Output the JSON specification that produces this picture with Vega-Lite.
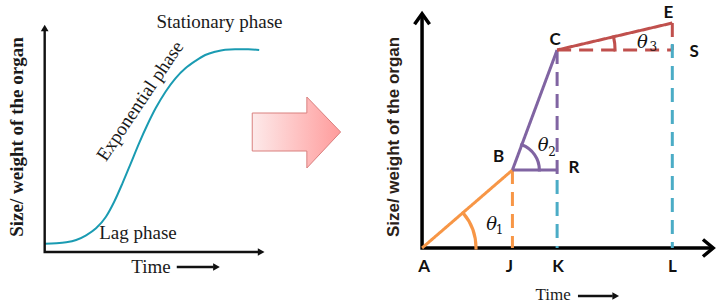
{
  "$schema": "https://vega.github.io/schema/vega-lite/v6.json",
  "width": 721,
  "height": 303,
  "autosize": {"type": "fit", "contains": "padding"},
  "padding": 0,
  "background": "white",
  "config": {"view": {"stroke": null}},
  "datasets": {
    "arrow": [
      {"o": 1, "x": 254, "y": 113},
      {"o": 2, "x": 309, "y": 113},
      {"o": 3, "x": 309, "y": 97},
      {"o": 4, "x": 343, "y": 132},
      {"o": 5, "x": 309, "y": 168},
      {"o": 6, "x": 309, "y": 151},
      {"o": 7, "x": 254, "y": 151},
      {"o": 8, "x": 254, "y": 113}
    ],
    "sigmoid": [
      {"x": 45, "y": 243.7}, {"x": 56.7, "y": 243.3}, {"x": 66.7, "y": 242.3}, {"x": 76.7, "y": 240},
      {"x": 86.7, "y": 235.3}, {"x": 96.7, "y": 228.3}, {"x": 106.7, "y": 216.7}, {"x": 115, "y": 201.7},
      {"x": 123.3, "y": 183.3}, {"x": 131.7, "y": 163.3}, {"x": 140, "y": 143.3}, {"x": 148.3, "y": 125},
      {"x": 156.7, "y": 108.3}, {"x": 166.7, "y": 91.7}, {"x": 176.7, "y": 78.3}, {"x": 186.7, "y": 68.3},
      {"x": 196.7, "y": 61}, {"x": 206.7, "y": 55}, {"x": 216.7, "y": 51.7}, {"x": 226.7, "y": 49.7},
      {"x": 236.7, "y": 49.3}, {"x": 250, "y": 49.3}, {"x": 261, "y": 50}
    ],
    "thin": [
      {"seg": "leftaxes", "o": 1, "x": 45, "y": 30},
      {"seg": "leftaxes", "o": 2, "x": 45, "y": 252},
      {"seg": "leftaxes", "o": 3, "x": 262, "y": 252},
      {"seg": "time1", "o": 1, "x": 178, "y": 267},
      {"seg": "time1", "o": 2, "x": 215, "y": 267},
      {"seg": "time2", "o": 1, "x": 582, "y": 296},
      {"seg": "time2", "o": 2, "x": 617, "y": 296}
    ],
    "rightaxes": [
      {"o": 1, "x": 425, "y": 15},
      {"o": 2, "x": 425, "y": 248},
      {"o": 3, "x": 717, "y": 248}
    ],
    "headsRight": [
      {"x": 263, "y": 252}, {"x": 218, "y": 267}, {"x": 620, "y": 296}
    ],
    "headsUp": [{"x": 45, "y": 28}],
    "chevUp": [{"x": 425, "y": 19}],
    "chevRight": [{"x": 713, "y": 248}],
    "segments": [
      {"seg": "AB", "phase": "Lag", "kind": "slope", "o": 1, "x": 425, "y": 248},
      {"seg": "AB", "phase": "Lag", "kind": "slope", "o": 2, "x": 516, "y": 170},
      {"seg": "BJ", "phase": "Lag", "kind": "guide", "o": 1, "x": 516, "y": 170},
      {"seg": "BJ", "phase": "Lag", "kind": "guide", "o": 2, "x": 516, "y": 248},
      {"seg": "BC", "phase": "Exponential", "kind": "slope", "o": 1, "x": 516, "y": 170},
      {"seg": "BC", "phase": "Exponential", "kind": "slope", "o": 2, "x": 561, "y": 50},
      {"seg": "BR", "phase": "Exponential", "kind": "slope", "o": 1, "x": 516, "y": 170},
      {"seg": "BR", "phase": "Exponential", "kind": "slope", "o": 2, "x": 562, "y": 170},
      {"seg": "CR", "phase": "Exponential", "kind": "guide", "o": 1, "x": 561, "y": 50},
      {"seg": "CR", "phase": "Exponential", "kind": "guide", "o": 2, "x": 561, "y": 174},
      {"seg": "CE", "phase": "Stationary", "kind": "slope", "o": 1, "x": 561, "y": 50},
      {"seg": "CE", "phase": "Stationary", "kind": "slope", "o": 2, "x": 677, "y": 23},
      {"seg": "CS", "phase": "Stationary", "kind": "guide", "o": 1, "x": 561, "y": 50},
      {"seg": "CS", "phase": "Stationary", "kind": "guide", "o": 2, "x": 677, "y": 50},
      {"seg": "ES", "phase": "Stationary", "kind": "guide", "o": 1, "x": 677, "y": 23},
      {"seg": "ES", "phase": "Stationary", "kind": "guide", "o": 2, "x": 677, "y": 50},
      {"seg": "RK", "phase": "Drop", "kind": "guide", "o": 1, "x": 561, "y": 180},
      {"seg": "RK", "phase": "Drop", "kind": "guide", "o": 2, "x": 561, "y": 248},
      {"seg": "SL", "phase": "Drop", "kind": "guide", "o": 1, "x": 677, "y": 44},
      {"seg": "SL", "phase": "Drop", "kind": "guide", "o": 2, "x": 677, "y": 248}
    ],
    "arc1": [{"x": 425, "y": 248, "t1": 0.862, "t2": 1.5708}],
    "arc2": [{"x": 516, "y": 170, "t1": 0.351, "t2": 1.5708}],
    "arc3": [{"x": 561, "y": 50, "t1": 1.344, "t2": 1.5708}],
    "serifH": [
      {"t": "Stationary phase", "x": 221, "y": 22},
      {"t": "Lag phase", "x": 139, "y": 233},
      {"t": "Time", "x": 152, "y": 267}
    ],
    "expo": [{"t": "Exponential phase", "x": 141, "y": 101}],
    "ytitleL": [{"t": "Size/ weight of the organ", "x": 17, "y": 137}],
    "ytitleR": [{"t": "Size/ weight of the organ", "x": 397, "y": 137}],
    "timeR": [{"t": "Time", "x": 557, "y": 295}],
    "pts": [
      {"t": "A", "x": 427, "y": 267}, {"t": "J", "x": 513, "y": 267}, {"t": "K", "x": 562, "y": 267},
      {"t": "L", "x": 677, "y": 267}, {"t": "B", "x": 502, "y": 157}, {"t": "C", "x": 559, "y": 40},
      {"t": "E", "x": 673, "y": 13}, {"t": "S", "x": 699, "y": 52}, {"t": "R", "x": 578, "y": 168}
    ],
    "thetas": [
      {"t": "θ", "x": 495, "y": 225}, {"t": "θ", "x": 547, "y": 146}, {"t": "θ", "x": 647, "y": 43}
    ],
    "subs": [
      {"t": "1", "x": 503, "y": 230}, {"t": "2", "x": 556, "y": 152}, {"t": "3", "x": 658, "y": 47}
    ]
  },
  "encoding": {
    "x": {"field": "x", "type": "quantitative", "scale": {"domain": [0, 721], "nice": false, "zero": false}, "axis": null},
    "y": {"field": "y", "type": "quantitative", "scale": {"domain": [0, 303], "nice": false, "zero": false, "reverse": true}, "axis": null}
  },
  "layer": [
    {
      "data": {"name": "arrow"},
      "mark": {"type": "line", "stroke": "#d9807f", "strokeWidth": 1, "strokeJoin": "miter",
        "fill": {"gradient": "linear", "x1": 0, "y1": 0, "x2": 1, "y2": 0,
          "stops": [{"offset": 0, "color": "#fdeaea"}, {"offset": 1, "color": "#ff9c9c"}]}},
      "encoding": {"order": {"field": "o", "type": "quantitative"}}
    },
    {
      "data": {"name": "sigmoid"},
      "mark": {"type": "line", "color": "#1a9bb2", "strokeWidth": 2, "interpolate": "monotone"}
    },
    {
      "data": {"name": "thin"},
      "mark": {"type": "line", "color": "#111111", "strokeWidth": 2.4},
      "encoding": {"detail": {"field": "seg"}, "order": {"field": "o", "type": "quantitative"}}
    },
    {
      "data": {"name": "rightaxes"},
      "mark": {"type": "line", "color": "#000000", "strokeWidth": 3.5, "strokeJoin": "miter"},
      "encoding": {"order": {"field": "o", "type": "quantitative"}}
    },
    {
      "data": {"name": "headsRight"},
      "mark": {"type": "point", "shape": "triangle-right", "filled": true, "color": "#111111", "size": 60, "opacity": 1}
    },
    {
      "data": {"name": "headsUp"},
      "mark": {"type": "point", "shape": "triangle-up", "filled": true, "color": "#111111", "size": 60, "opacity": 1}
    },
    {
      "data": {"name": "chevUp"},
      "mark": {"type": "point", "shape": "M-1,0.7L0,-0.7L1,0.7", "filled": false, "stroke": "#000000", "strokeWidth": 3.5, "size": 225, "opacity": 1}
    },
    {
      "data": {"name": "chevRight"},
      "mark": {"type": "point", "shape": "M-0.6,-1L0.6,0L-0.6,1", "filled": false, "stroke": "#000000", "strokeWidth": 3.5, "size": 289, "opacity": 1}
    },
    {
      "data": {"name": "segments"},
      "mark": {"type": "line", "strokeWidth": 3, "strokeCap": "butt"},
      "encoding": {
        "detail": {"field": "seg"},
        "order": {"field": "o", "type": "quantitative"},
        "color": {"field": "phase", "type": "nominal", "legend": null,
          "scale": {"domain": ["Lag", "Exponential", "Stationary", "Drop"], "range": ["#f79646", "#8064a2", "#c0504d", "#4bacc6"]}},
        "strokeDash": {"field": "kind", "type": "nominal", "legend": null,
          "scale": {"domain": ["slope", "guide"], "range": [[1, 0], [14, 8]]}}
      }
    },
    {
      "data": {"name": "arc1"},
      "mark": {"type": "arc", "radius": 54, "radius2": 53.9, "fillOpacity": 0, "stroke": "#f79646", "strokeWidth": 3},
      "encoding": {"theta": {"field": "t1", "type": "quantitative", "scale": null, "stack": null}, "theta2": {"field": "t2"}}
    },
    {
      "data": {"name": "arc2"},
      "mark": {"type": "arc", "radius": 27, "radius2": 26.9, "fillOpacity": 0, "stroke": "#8064a2", "strokeWidth": 3},
      "encoding": {"theta": {"field": "t1", "type": "quantitative", "scale": null, "stack": null}, "theta2": {"field": "t2"}}
    },
    {
      "data": {"name": "arc3"},
      "mark": {"type": "arc", "radius": 58, "radius2": 57.9, "fillOpacity": 0, "stroke": "#c0504d", "strokeWidth": 3},
      "encoding": {"theta": {"field": "t1", "type": "quantitative", "scale": null, "stack": null}, "theta2": {"field": "t2"}}
    },
    {
      "data": {"name": "serifH"},
      "mark": {"type": "text", "font": "Liberation Serif", "fontSize": 19, "color": "#1a1a1a", "align": "center", "baseline": "middle"},
      "encoding": {"text": {"field": "t"}}
    },
    {
      "data": {"name": "expo"},
      "mark": {"type": "text", "font": "Liberation Serif", "fontSize": 19, "color": "#1a1a1a", "align": "center", "baseline": "middle", "angle": -56},
      "encoding": {"text": {"field": "t"}}
    },
    {
      "data": {"name": "ytitleL"},
      "mark": {"type": "text", "font": "Liberation Serif", "fontSize": 19, "fontWeight": "bold", "color": "#1a1a1a", "align": "center", "baseline": "middle", "angle": -90},
      "encoding": {"text": {"field": "t"}}
    },
    {
      "data": {"name": "ytitleR"},
      "mark": {"type": "text", "font": "Liberation Sans Narrow, Liberation Sans", "fontSize": 17, "fontWeight": "bold", "color": "#2a2118", "align": "center", "baseline": "middle", "angle": -90},
      "encoding": {"text": {"field": "t"}}
    },
    {
      "data": {"name": "timeR"},
      "mark": {"type": "text", "font": "Liberation Serif", "fontSize": 17, "color": "#1a1a1a", "align": "center", "baseline": "middle"},
      "encoding": {"text": {"field": "t"}}
    },
    {
      "data": {"name": "pts"},
      "mark": {"type": "text", "font": "Lato", "fontSize": 17, "fontWeight": "bold", "color": "#111111", "align": "center", "baseline": "middle"},
      "encoding": {"text": {"field": "t"}}
    },
    {
      "data": {"name": "thetas"},
      "mark": {"type": "text", "font": "DejaVu Serif", "fontSize": 18, "fontStyle": "italic", "color": "#111111", "align": "center", "baseline": "middle"},
      "encoding": {"text": {"field": "t"}}
    },
    {
      "data": {"name": "subs"},
      "mark": {"type": "text", "font": "DejaVu Serif", "fontSize": 12, "color": "#111111", "align": "center", "baseline": "middle"},
      "encoding": {"text": {"field": "t"}}
    }
  ]
}
